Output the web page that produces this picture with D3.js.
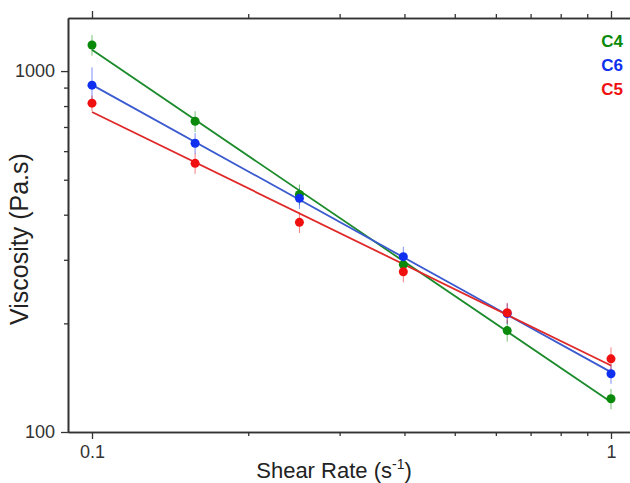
<!DOCTYPE html>
<html>
<head>
<meta charset="utf-8">
<script src="https://cdn.jsdelivr.net/npm/d3@7"></script>
<style>
  body { margin: 0; background: #fff; }
  svg text { font-family: "Liberation Sans", Arial, sans-serif; }
</style>
</head>
<body>
<div id="chart"></div>
<script>
const shearRates = [0.1, 0.158, 0.251, 0.398, 0.631, 1.0];

const c4 = [1181, 726, 455, 291, 191, 123.6];
const c6 = [914, 631, 444, 306, 213, 145];
const c5 = [815, 555, 381, 278, 214, 159.5];

const c4Err = [78, 48, 30, 19, 13, 8];
const c6Err = [110, 42, 29, 20, 14, 9];
const c5Err = [40, 36, 25, 18, 14, 12];

const seriesNames = ["C4", "C6", "C5"];
const seriesColors = ["#0a8a0a", "#1030f0", "#f01010"];
const lineColors = ["#1a8a2a", "#3a5ad0", "#e02828"];

const xTicks = [0.1, 1];
const yTicks = [100, 1000];

const width = 630;
const height = 483;
const margin = {top: 18, bottom: 51, left: 68, right: 0};

const series = [
    {name: seriesNames[0], values: c4, err: c4Err, color: seriesColors[0], line: lineColors[0]},
    {name: seriesNames[1], values: c6, err: c6Err, color: seriesColors[1], line: lineColors[1]},
    {name: seriesNames[2], values: c5, err: c5Err, color: seriesColors[2], line: lineColors[2]}
];

// log scales, frame runs a bit past the data on each side
const xScale = d3.scaleLog()
    .domain([0.0899, 1.088])
    .range([margin.left, width - margin.right]);

const yScale = d3.scaleLog()
    .domain([100, 1403])
    .range([height - margin.bottom, margin.top]);

const svg = d3.select('#chart')
    .append('svg')
    .attr('width', width)
    .attr('height', height);

const xMinor = d3.range(2, 10).map(d => d / 10);
const yMinor = d3.range(2, 10).map(d => d * 100);

// bottom axis
svg.append('g')
    .attr('transform', `translate(0,${height - margin.bottom})`)
    .call(d3.axisBottom(xScale).tickValues(xTicks).tickFormat(d3.format('')).tickSize(7).tickPadding(6).tickSizeOuter(0));
svg.append('g')
    .attr('transform', `translate(0,${height - margin.bottom})`)
    .call(d3.axisBottom(xScale).tickValues(xMinor).tickFormat('').tickSize(4).tickSizeOuter(0));

// top axis
svg.append('g')
    .attr('transform', `translate(0,${margin.top})`)
    .call(d3.axisTop(xScale).tickValues(xTicks).tickFormat('').tickSize(7).tickSizeOuter(0));
svg.append('g')
    .attr('transform', `translate(0,${margin.top})`)
    .call(d3.axisTop(xScale).tickValues(xMinor).tickFormat('').tickSize(4).tickSizeOuter(0));

// left axis
svg.append('g')
    .attr('transform', `translate(${margin.left},0)`)
    .call(d3.axisLeft(yScale).tickValues(yTicks).tickFormat(d3.format('')).tickSize(7).tickPadding(6).tickSizeOuter(0));
svg.append('g')
    .attr('transform', `translate(${margin.left},0)`)
    .call(d3.axisLeft(yScale).tickValues(yMinor).tickFormat('').tickSize(4).tickSizeOuter(0));

svg.selectAll('.domain').attr('stroke', '#333').attr('stroke-width', 1.6);
svg.selectAll('.tick line').attr('stroke', '#333').attr('stroke-width', 1.3);
svg.selectAll('.tick text')
    .attr('font-size', 18)
    .attr('fill', '#333');

// axis titles
const xt = svg.append('text')
    .attr('x', 334)
    .attr('y', 478)
    .attr('text-anchor', 'middle')
    .attr('font-size', 22)
    .attr('fill', '#222')
    .text('Shear Rate (s');
xt.append('tspan').attr('font-size', 14).attr('dy', -9).text('-1');
xt.append('tspan').attr('dy', 9).text(')');

svg.append('text')
    .attr('transform', 'translate(28,239) rotate(-90)')
    .attr('text-anchor', 'middle')
    .attr('font-size', 25)
    .attr('fill', '#222')
    .text('Viscosity (Pa.s)');

// power-law fit in log-log space
function fit(vals) {
    const lx = shearRates.map(Math.log10);
    const ly = vals.map(Math.log10);
    const mx = d3.mean(lx), my = d3.mean(ly);
    const slope = d3.sum(lx, (d, i) => (d - mx) * (ly[i] - my)) / d3.sum(lx, d => (d - mx) ** 2);
    const icpt = my - slope * mx;
    return x => Math.pow(10, icpt + slope * Math.log10(x));
}

const line = d3.line()
    .x(d => xScale(d[0]))
    .y(d => yScale(d[1]));

// error bars
series.forEach(s => {
    svg.selectAll(null)
        .data(shearRates)
        .enter()
        .append('line')
        .attr('x1', d => xScale(d))
        .attr('x2', d => xScale(d))
        .attr('y1', (d, i) => yScale(s.values[i] + s.err[i]))
        .attr('y2', (d, i) => yScale(s.values[i] - s.err[i]))
        .attr('stroke', s.color)
        .attr('stroke-opacity', 0.55)
        .attr('stroke-width', 1);
});

// fit lines
series.forEach(s => {
    const f = fit(s.values);
    const ends = [shearRates[0], shearRates[shearRates.length - 1]];
    svg.append('path')
        .datum(ends.map(x => [x, f(x)]))
        .attr('d', line)
        .attr('fill', 'none')
        .attr('stroke', s.line)
        .attr('stroke-width', 1.8);
});

// points
series.forEach(s => {
    svg.selectAll(null)
        .data(shearRates)
        .enter()
        .append('circle')
        .attr('cx', d => xScale(d))
        .attr('cy', (d, i) => yScale(s.values[i]))
        .attr('r', 4.5)
        .attr('fill', s.color);
});

// legend
svg.selectAll('.legend')
    .data(series)
    .enter()
    .append('text')
    .attr('class', 'legend')
    .attr('x', 623)
    .attr('y', (d, i) => 47 + i * 24)
    .attr('text-anchor', 'end')
    .attr('font-size', 17)
    .attr('font-weight', 'bold')
    .attr('fill', d => d.color)
    .text(d => d.name);
</script>
</body>
</html>
